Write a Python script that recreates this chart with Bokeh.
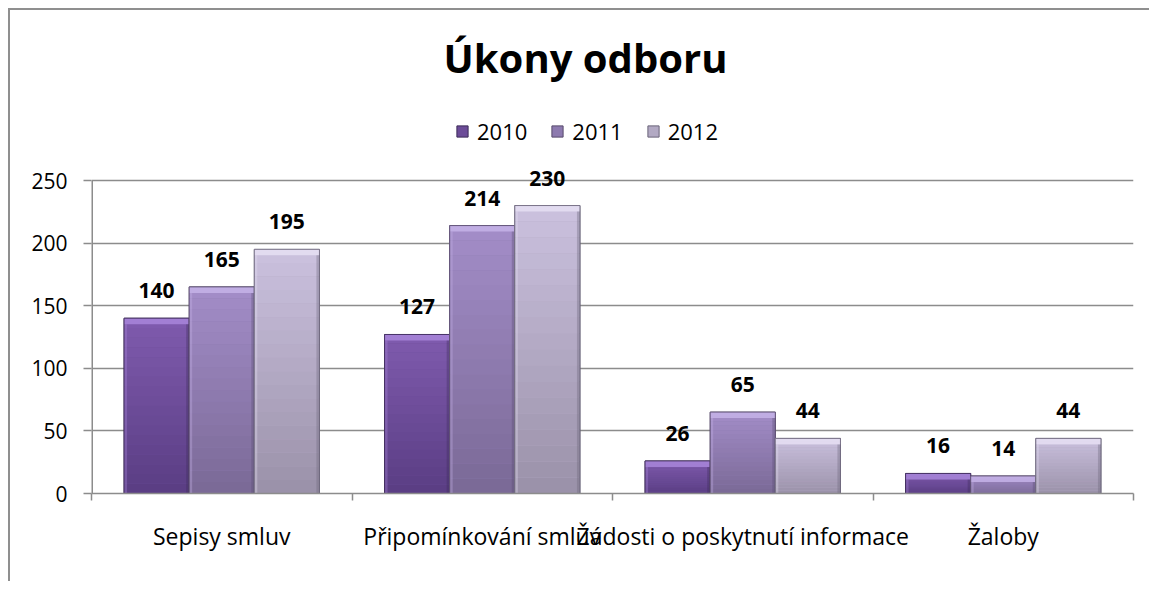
from bokeh.plotting import figure
from bokeh.models import (Range1d, FixedTicker, Label, LabelSet, Legend, LegendItem,
                          ColumnDataSource)
from bokeh.core.properties import value
from bokeh.embed import file_html
from bokeh.resources import INLINE

# ---- data ----
categories = ["Sepisy smluv", "Připomínkování smluv",
              "Žádosti o poskytnutí informace", "Žaloby"]
years = ["2010", "2011", "2012"]
v2010 = [140, 127, 26, 16]
v2011 = [165, 214, 65, 14]
v2012 = [195, 230, 44, 44]
y_ticks = [0, 50, 100, 150, 200, 250]
title_text = "Úkony odboru"

series = {"2010": v2010, "2011": v2011, "2012": v2012}

# ---- styles ----
FONT = "Open Sans"
GRID = "#8c8c8c"
styles = {
    "2010": dict(top="#7f5bae", bot="#5a3d83", mid="#6c4c98", bevel="#a886da", edge="#3c2a58"),
    "2011": dict(top="#a38dc8", bot="#7a6996", mid="#8d7aaf", bevel="#c5b3e8", edge="#574a6c"),
    "2012": dict(top="#cbc1de", bot="#9a91a9", mid="#b2a9c3", bevel="#e6dff3", edge="#6a6479"),
}

PLOT_W, PLOT_H = 1042, 313        # pixel size of the 0..250 value area
EXTRA_TOP = 168                   # room above the value area for title and legend
LEFT, RIGHT, TOP, BOTTOM = 81, 18, 2, 90
FRAME_H = PLOT_H + EXTRA_TOP
W = LEFT + PLOT_W + RIGHT
H = TOP + FRAME_H + BOTTOM

ymax = y_ticks[-1]
y_end = ymax * FRAME_H / PLOT_H

p = figure(width=W, height=H, output_backend="svg", toolbar_location=None,
           x_range=Range1d(0, len(categories)), y_range=Range1d(0, y_end),
           min_border_left=LEFT, min_border_right=RIGHT,
           min_border_top=TOP, min_border_bottom=BOTTOM,
           background_fill_color="white", border_fill_color="white")
p.outline_line_color = None
p.styles = {"margin-left": "8px", "margin-top": "8px",
            "border-left": "2px solid #8f8f8f", "border-top": "2px solid #8f8f8f"}

ppx = PLOT_W / len(categories)   # px per x unit
ppy = PLOT_H / ymax              # px per y unit


def h2r(h):
    h = h.lstrip("#")
    return tuple(int(h[i:i + 2], 16) for i in (0, 2, 4))


def mix(c1, c2, t):
    a, b = h2r(c1), h2r(c2)
    return "#%02x%02x%02x" % tuple(int(round(a[i] + (b[i] - a[i]) * t)) for i in range(3))


# y axis line only over the value area
p.segment(x0=[0], y0=[0], x1=[0], y1=[ymax], line_color=GRID, line_width=3)

bar_w = 0.25
N = 18
legend_items = []
lab_x, lab_y, lab_t = [], [], []
for si, yr in enumerate(years):
    vals = series[yr]
    st = styles[yr]
    lefts = [j + 0.5 + (si - 1) * bar_w - bar_w / 2 for j in range(len(categories))]
    rights = [l + bar_w for l in lefts]
    base = p.quad(left=lefts, right=rights, bottom=[0] * len(vals), top=vals,
                  fill_color=st["mid"], line_color=st["edge"], line_width=1)
    legend_items.append(LegendItem(label=yr, renderers=[base]))
    gl, gr, gb, gt, gc = [], [], [], [], []
    for j, v in enumerate(vals):
        for k in range(N):
            gl.append(lefts[j]); gr.append(rights[j])
            gb.append(v * k / N); gt.append(v * (k + 1) / N)
            gc.append(mix(st["bot"], st["top"], (k + 0.5) / N))
    p.quad(left=gl, right=gr, bottom=gb, top=gt, fill_color=gc, line_color=None)
    bev = 6 / ppy
    p.quad(left=lefts, right=rights, bottom=[max(v - bev, 0) for v in vals], top=vals,
           fill_color=st["bevel"], fill_alpha=0.85, line_color=None)
    p.quad(left=lefts, right=[l + 3 / ppx for l in lefts], bottom=[0] * len(vals),
           top=[max(v - bev, 0) for v in vals], fill_color=st["bevel"], fill_alpha=0.35,
           line_color=None)
    p.quad(left=[r - 3 / ppx for r in rights], right=rights, bottom=[0] * len(vals),
           top=[max(v - bev, 0) for v in vals], fill_color=st["edge"], fill_alpha=0.35,
           line_color=None)
    p.quad(left=lefts, right=rights, bottom=[0] * len(vals), top=vals,
           fill_color=None, line_color=st["edge"], line_alpha=0.8, line_width=1)
    for j, v in enumerate(vals):
        lab_x.append((lefts[j] + rights[j]) / 2)
        lab_y.append(v)
        lab_t.append(str(v))

labels = LabelSet(x="x", y="y", text="t",
                  source=ColumnDataSource(dict(x=lab_x, y=lab_y, t=lab_t)),
                  text_align="center", text_baseline="alphabetic", y_offset=20,
                  text_font=value(FONT), text_font_style="bold", text_font_size="21px",
                  text_color="black")
p.add_layout(labels)

# ---- axes ----
p.xgrid.grid_line_color = None
p.ygrid.ticker = FixedTicker(ticks=y_ticks)
p.ygrid.grid_line_color = GRID
p.ygrid.grid_line_width = 1.5

ya = p.yaxis[0]
ya.ticker = FixedTicker(ticks=y_ticks)
ya.major_tick_out = 8
ya.major_tick_in = 0
ya.minor_tick_line_color = None
ya.axis_line_color = None
ya.major_tick_line_color = GRID
ya.major_tick_line_width = 1.5
ya.major_label_standoff = 16
ya.major_label_text_font = FONT
ya.major_label_text_font_size = "21px"
ya.major_label_text_color = "black"

xa = p.xaxis[0]
centers = [j + 0.5 for j in range(len(categories))]
bounds = [j for j in range(len(categories) + 1)]
xa.ticker = FixedTicker(ticks=centers, minor_ticks=bounds)
xa.major_label_overrides = {c: n for c, n in zip(centers, categories)}
xa.major_tick_line_color = None
xa.major_tick_out = 0
xa.major_tick_in = 0
xa.minor_tick_out = 7
xa.minor_tick_in = 0
xa.minor_tick_line_color = GRID
xa.minor_tick_line_width = 1.5
xa.axis_line_color = GRID
xa.axis_line_width = 1.5
xa.major_label_standoff = 19
xa.major_label_text_font = FONT
xa.major_label_text_font_size = "23px"
xa.major_label_text_color = "black"

# ---- legend ----
legend = Legend(items=legend_items, orientation="horizontal", location=(364, 347),
                glyph_width=14, glyph_height=14, label_text_font=FONT,
                label_text_font_size="22px", label_text_color="black",
                label_standoff=8, spacing=23,
                padding=0, margin=0, border_line_color=None,
                background_fill_alpha=0)
p.add_layout(legend)

# ---- title ----
p.add_layout(Label(x=494, y=436, x_units="screen", y_units="screen", text=title_text,
                   text_align="center", text_baseline="alphabetic", text_font=FONT,
                   text_font_style="bold", text_font_size="40px", text_color="black"))

open("out.html", "w").write(file_html(p, INLINE))
